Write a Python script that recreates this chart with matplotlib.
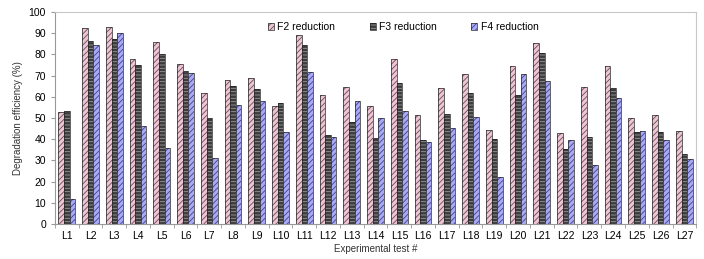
import matplotlib.pyplot as plt
import numpy as np
from matplotlib.patches import Patch
from matplotlib.legend_handler import HandlerTuple

plt.rcParams['font.family'] = ['Liberation Sans', 'DejaVu Sans']
plt.rcParams['hatch.linewidth'] = 0.6

tests = ['L%d' % i for i in range(1, 28)]
f2 = [53, 92.5, 93, 78, 86, 75.5, 62, 68, 69, 55.5, 89, 61, 64.5, 55.5, 78, 51.5, 64,
      70.5, 44.5, 74.5, 85.5, 43, 64.5, 74.5, 50, 51.5, 44]
f3 = [53.5, 86.5, 87, 75, 80, 72, 50, 65, 63.5, 57, 84.5, 42, 48, 40.5, 66.5, 39.5, 52,
      62, 40, 61, 80.5, 35.5, 41, 64, 43.5, 43.5, 33]
f4 = [12, 84.5, 90, 46, 36, 71, 31, 56, 58, 43.5, 71.5, 41, 58, 50, 53.5, 38.5, 45.5,
      50.5, 22, 70.5, 67.5, 39.5, 28, 59.5, 44, 39.5, 30.5]

fig = plt.figure(figsize=(7.04, 2.59), dpi=100)
ax = fig.add_axes([0.078, 0.135, 0.911, 0.819])

x = np.arange(len(tests))
w = 0.235
series = [
    (f2, -w, '#ecc6d4', '#6a4a58', '//////', 'F2 reduction'),
    (f3, 0, '#3c3c3c', '#9a9a9a', '-----', 'F3 reduction'),
    (f4, w, '#aaaaf2', '#40409a', '//////', 'F4 reduction'),
]
handles, labels = [], []
for vals, off, fc, hc, hatch, lab in series:
    # hatch drawn first, then the dark outline on top
    ax.bar(x + off, vals, w, color=fc, edgecolor=hc, hatch=hatch, lw=0)
    ax.bar(x + off, vals, w, fill=False, edgecolor='#222222', lw=0.5)
    handles.append((Patch(facecolor=fc, edgecolor=hc, hatch=hatch, lw=0),
                    Patch(fill=False, edgecolor='#222222', lw=0.5)))
    labels.append(lab)

ax.set_xlim(-0.5, len(tests) - 0.5)
ax.set_ylim(0, 100)
ax.set_yticks(range(0, 101, 10))
ax.set_xticks(x)
ax.set_xticklabels(tests)
ax.set_xticks(np.arange(-0.5, len(tests), 1), minor=True)
ax.tick_params(axis='x', which='major', length=0, labelsize=7.5, pad=5)
ax.tick_params(axis='x', which='minor', length=3, color='#999999')
ax.tick_params(axis='y', labelsize=7.5, length=3, color='#999999')
for s in ax.spines.values():
    s.set_color('#c8c8c8')
    s.set_linewidth(0.8)
ax.spines['left'].set_color('#999999')
ax.spines['bottom'].set_color('#999999')

ax.set_ylabel('Degradation efficiency (%)', fontsize=7, color='#333333')
ax.set_xlabel('Experimental test #', fontsize=7, color='#333333', labelpad=2)

ax.legend(handles, labels, handler_map={tuple: HandlerTuple(ndivide=1, pad=0)},
          loc='upper center', bbox_to_anchor=(0.543, 0.995), ncol=3, frameon=False,
          fontsize=7.5, handlelength=0.6, handleheight=0.6, handletextpad=0.3,
          columnspacing=3.3)

fig.savefig('out.png', dpi=100)
